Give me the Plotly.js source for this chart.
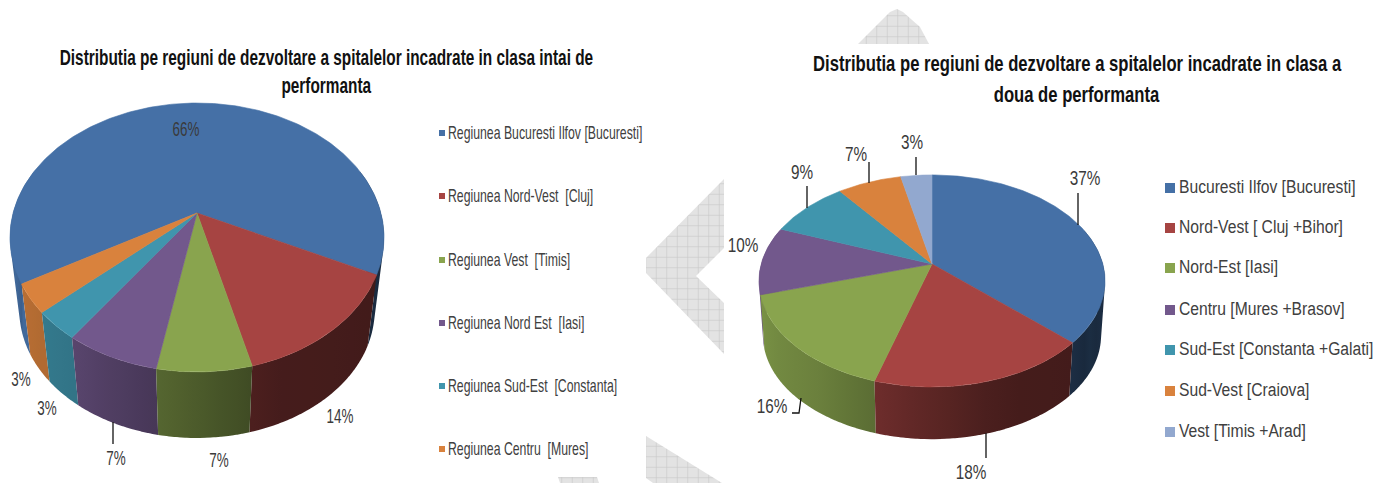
<!DOCTYPE html>
<html><head><meta charset="utf-8">
<script src="https://cdn.plot.ly/plotly-3.0.1.min.js"></script>
<style>html,body{margin:0;padding:0;background:#fff}#c{width:1386px;height:483px}</style>
</head><body><div id="c"></div>
<script>
// ---- data ----
const leftNames = ["Regiunea Bucuresti Ilfov [Bucuresti]","Regiunea Nord-Vest  [Cluj]","Regiunea Vest  [Timis]","Regiunea Nord Est  [Iasi]","Regiunea Sud-Est  [Constanta]","Regiunea Centru  [Mures]"];
const leftValues = [65.5,13.8,6.9,6.9,3.45,3.45];
const rightNames = ["Bucuresti Ilfov [Bucuresti]","Nord-Vest [ Cluj +Bihor]","Nord-Est [Iasi]","Centru [Mures +Brasov]","Sud-Est [Constanta +Galati]","Sud-Vest [Craiova]","Vest [Timis +Arad]"];
const rightValues = [36.9,17.7,15.8,10.4,8.8,7.0,3.4];
const leftColors = ["#4570a6","#a64442","#89a44e","#72588c","#4095ad","#d9823d"];
const rightColors = ["#4570a6","#a64442","#89a44e","#72588c","#4095ad","#d9823d","#92a8cf"];
const leftTitleLines = ["Distributia pe regiuni de dezvoltare a spitalelor incadrate in clasa intai de","performanta"];
const rightTitleLines = ["Distributia pe regiuni de dezvoltare a spitalelor incadrate in clasa a","doua de performanta"];

// ---- layout of the two drawings (pixels on the page axes) ----
const FONT = '"Liberation Sans",Arial,sans-serif';
const leftPie = {cx:197, cy:213, A:130, B:183.9, p:0.182, s:0.95, drop:74, start:240.2, values:leftValues, colors:leftColors};
const rightPie = {cx:932, cy:264, A:103.3, B:170.8, p:0.160, s:0.977, drop:55, start:0, values:rightValues, colors:rightColors};
const leftLabelPos = [[186,131],[340,418],[219,462],[116,460],[47,410],[21,381]];
const rightLabelPos = [[1085,180],[971,474],[772,408],[743,247],[802,174],[856,156],[912,144]];
const leftLeaders = [[[113,422],[113,444]]];
const rightLeaders = [[[1078,193],[1078,225]],[[986,433],[986,458]],[[801,398],[799,413],[792,413]],[[807,186],[807,208]],[[869,162],[869,183]],[[916,157],[916,175]]];
const leftLegend = {mx:442, tx:448, ys:[133,196,260,323,386,449], tdy:1, msize:6, fsize:18.6};
const rightLegend = {mx:1170, tx:1179, ys:[188,228,268,310,350,391,432], tdy:1, msize:10, fsize:18};
const watermarks = [
 [[724,179],[646,258],[646,273],[724,354],[724,303],[696,276],[724,248]],
 [[646,436],[722,483],[653,483],[646,478]],
 [[558,477],[597,477],[599,483],[560,483]],
 [[858,44],[890,12],[897,9],[903,12],[920,27],[929,44]]
];
const titleAnchors = [[326,57,0.70],[326,85,0.70],[1077,63,0.757],[1077,94,0.757]];
const squeezeLeftLegend = 0.66, squeezeRightLegend = 0.87, squeezeLeftLabels = 0.64, squeezeRightLabels = 0.765;

// ---- projection of the tilted disc ----
function rim(P, deg, low){
  const t = deg*Math.PI/180, u = Math.sin(t), v = Math.cos(t), w = 1+P.p*v;
  const X = P.B*u/w, Y = -P.A*v/w;
  return low ? [P.cx+P.s*X, P.cy+P.drop+P.s*Y] : [P.cx+X, P.cy+Y];
}
const shadeStops = [[60,.36],[160,.42],[190,.62],[215,.78],[240,.85],[260,.92],[300,.95]];
function shade(deg){
  let d = ((deg%360)+360)%360;
  for(let i=1;i<shadeStops.length;i++){
    if(d<=shadeStops[i][0]){
      const a=shadeStops[i-1], b=shadeStops[i], f=(d-a[0])/(b[0]-a[0]);
      return a[1]+(b[1]-a[1])*Math.max(0,f);
    }
  }
  return .95;
}
function tone(hex,f){
  const n=parseInt(hex.slice(1),16);
  return `rgb(${Math.round((n>>16)*f)},${Math.round(((n>>8)&255)*f)},${Math.round((n&255)*f)})`;
}
function range(a,b,n){const o=[];for(let i=0;i<=n;i++)o.push(a+(b-a)*i/n);return o;}
function area(q){let s=0;for(let i=0;i<q.length;i++){const a=q[i],b=q[(i+1)%q.length];s+=a[0]*b[1]-b[0]*a[1];}return s;}

function pieTraces(P){
  const walls=[], tops=[];
  const total=P.values.reduce((a,b)=>a+b,0);
  let a=P.start;
  P.values.forEach((val,i)=>{
    const b=a+val/total*360;
    [[70,290],[430,650]].forEach(([lo,hi])=>{
      const s=Math.max(a,lo), e=Math.min(b,hi);
      if(e<=s) return;
      const th=range(s,e,Math.max(2,Math.ceil((e-s)/1.5)));
      const xs=[], ys=[];
      for(let k=0;k<th.length-1;k++){
        const d2=Math.min(e,th[k+1]+0.5);
        let q=[rim(P,th[k],false),rim(P,d2,false),rim(P,d2,true),rim(P,th[k],true)];
        if(area(q)<0) q=q.reverse();           // keep one winding so overlaps never cancel
        q.concat([q[0]]).forEach(c=>{xs.push(c[0]);ys.push(c[1]);});
        xs.push(null);ys.push(null);
      }
      const real=xs.filter(v=>v!==null), xmin=Math.min(...real), xmax=Math.max(...real), span=Math.max(xmax-xmin,1);
      const stops=range(s,e,6).map(d=>[(rim(P,d,false)[0]-xmin)/span,tone(P.colors[i],shade(d))])
        .map(q=>[Math.min(1,Math.max(0,q[0])),q[1]]).sort((m,n)=>m[0]-n[0]);
      if(stops[0][0]>0) stops.unshift([0,stops[0][1]]);
      if(stops[stops.length-1][0]<1) stops.push([1,stops[stops.length-1][1]]);
      stops[0][0]=0; stops[stops.length-1][0]=1;
      const mid=((s+e)/2)%360;
      walls.push({depth:Math.abs(mid-180),trace:{type:'scatter',mode:'lines',x:xs,y:ys,fill:'toself',connectgaps:false,
        fillgradient:{type:'horizontal',colorscale:stops},
        line:{width:0},hoverinfo:'skip',showlegend:false}});
    });
    const edge=range(a,b,Math.ceil(b-a)).map(d=>rim(P,d,false));
    const poly=[[P.cx,P.cy]].concat(edge,[[P.cx,P.cy]]);
    tops.push({type:'scatter',mode:'lines',x:poly.map(q=>q[0]),y:poly.map(q=>q[1]),fill:'toself',
      fillcolor:P.colors[i],line:{width:0.6,color:P.colors[i]},hoverinfo:'skip',showlegend:false});
    a=b;
  });
  walls.sort((m,n)=>n.depth-m.depth);
  return walls.map(w=>w.trace).concat(tops);
}
function labelTrace(vals,pos,size,cls){
  return {type:'scatter',mode:'text',x:pos.map(q=>q[0]),y:pos.map(q=>q[1]),
    text:vals.map(v=>Math.round(v)+'%'),textposition:'middle center',
    textfont:{family:FONT,size:size,color:'#3a3a3a'},hoverinfo:'skip',showlegend:false};
}
function leaderTraces(list){
  return list.map(l=>({type:'scatter',mode:'lines',x:l.map(q=>q[0]),y:l.map(q=>q[1]),
    line:{color:'#111',width:1.3},hoverinfo:'skip',showlegend:false}));
}
function legendTraces(L,names,colors){
  return [{type:'scatter',mode:'markers',x:L.ys.map(()=>L.mx),y:L.ys,
      marker:{symbol:'square',size:L.msize,color:colors,line:{width:0}},hoverinfo:'skip',showlegend:false},
    {type:'scatter',mode:'text',x:L.ys.map(()=>L.tx),y:L.ys.map(v=>v+L.tdy),text:names,textposition:'middle right',
      textfont:{family:FONT,size:L.fsize,color:'#404040'},hoverinfo:'skip',showlegend:false}];
}
const marks = watermarks.map(w=>{
  const c=w.concat([w[0]]);
  return {type:'scatter',mode:'lines',x:c.map(q=>q[0]),y:c.map(q=>q[1]),fill:'toself',
    fillcolor:'#e3e3e3',fillpattern:{shape:'+',size:10.5,solidity:0.12,fgcolor:'#c8c8c8',bgcolor:'#e3e3e3'},
    line:{width:0},hoverinfo:'skip',showlegend:false};
});

const traces = [].concat(marks,
  pieTraces(leftPie), pieTraces(rightPie),
  leaderTraces(leftLeaders), leaderTraces(rightLeaders),
  labelTrace(leftValues,leftLabelPos,21), labelTrace(rightValues,rightLabelPos,20),
  legendTraces(leftLegend,leftNames,leftColors),
  legendTraces(rightLegend,rightNames,rightColors));

const titleLines = leftTitleLines.concat(rightTitleLines);
const hidden={visible:false,fixedrange:true};
Plotly.newPlot('c',traces,{
  width:1386,height:483,margin:{l:0,r:0,t:0,b:0},paper_bgcolor:'#fff',plot_bgcolor:'#fff',showlegend:false,
  xaxis:Object.assign({range:[0,1386]},hidden),
  yaxis:Object.assign({range:[483,0]},hidden),
  annotations:titleLines.map((t,i)=>({xref:'x',yref:'y',x:titleAnchors[i][0],y:titleAnchors[i][1],text:'<b>'+t+'</b>',
    showarrow:false,align:'center',font:{family:FONT,size:22,color:'#111'}}))
},{staticPlot:true,displayModeBar:false}).then(()=>{
  // the reference's lettering is horizontally squeezed: narrow each text about its anchor
  function squeeze(el,k){
    const b=el.getBBox();
    const start=(el.getAttribute('text-anchor')||el.style.textAnchor)==='start';
    const pivot=start?b.x:b.x+b.width/2;
    const old=el.getAttribute('transform')||'';
    el.setAttribute('transform',`${old} translate(${pivot*(1-k)},0) scale(${k},1)`);
  }
  document.querySelectorAll('.textpoint text').forEach(el=>{
    const t=el.textContent;
    let k;
    if(leftNames.includes(t)) k=squeezeLeftLegend;
    else if(rightNames.includes(t)) k=squeezeRightLegend;
    else k=parseFloat(el.style.fontSize)>=20.5?squeezeLeftLabels:squeezeRightLabels;
    squeeze(el,k);
  });
  document.querySelectorAll('.annotation-text').forEach(el=>{
    const i=titleLines.indexOf(el.textContent);
    squeeze(el,titleAnchors[Math.max(i,0)][2]);
  });
});
</script></body></html>
